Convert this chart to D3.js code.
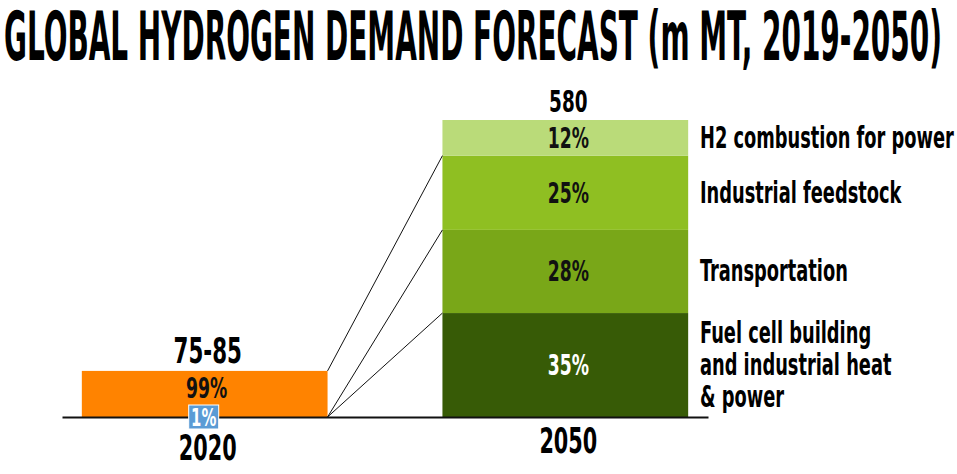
<!DOCTYPE html>
<html>
<head>
<meta charset="utf-8">
<script src="https://cdn.jsdelivr.net/npm/d3@7"></script>
<style>
  html, body { margin: 0; padding: 0; background: #ffffff; }
  svg { display: block; }
</style>
</head>
<body>
<svg id="chart" width="957" height="474"></svg>
<script>
// ---------------- data ----------------
const title = "GLOBAL HYDROGEN DEMAND FORECAST (m MT, 2019-2050)";
const years = ["2020", "2050"];
const totalLabels = ["75-85", "580"];
const totalValues = [90, 580];              // bar heights (m MT)
const shares2020 = [99, 1];                 // % : conventional, clean hydrogen
const segments2050 = [
  "Fuel cell building|and industrial heat|& power",
  "Transportation",
  "Industrial feedstock",
  "H2 combustion for power"
];
const shares2050 = [35, 28, 25, 12];        // % of 2050 demand, bottom to top
const colors2050 = ["#375b06", "#79a718", "#8fbf22", "#badb79"];
const labelColors2050 = ["#ffffff", "#111111", "#111111", "#111111"];

// ---------------- layout ----------------
const FONT = "'DejaVu Sans Condensed', 'DejaVu Sans', sans-serif";
const SX = 0.66;   // horizontal squeeze to mimic the condensed face

const svg = d3.select("#chart");

const x = d3.scaleBand().domain(years).range([62, 708]).paddingInner(0.3186).paddingOuter(0.055);
const y = d3.scaleLinear().domain([0, 580]).range([417, 120]);

function squeeze(sel, sx) {
  sel.each(function () {
    const t = d3.select(this);
    const tx = +t.attr("x") || 0, ty = +t.attr("y") || 0;
    t.attr("transform", `translate(${tx},${ty}) scale(${sx},1) translate(${-tx},${-ty})`);
  });
}

// title (squeezed to fit the width)
const titleEl = svg.append("text")
  .attr("x", 4).attr("y", 60)
  .style("font-family", FONT).style("font-weight", "bold").style("font-size", "68px")
  .attr("fill", "#000").text(title);
const natW = titleEl.node().getComputedTextLength();
titleEl.call(squeeze, 938 / natW);

// ---------------- 2020 bar ----------------
const b0 = x("2020"), bw = x.bandwidth();
svg.append("rect")
  .attr("x", b0).attr("y", y(totalValues[0]))
  .attr("width", bw).attr("height", y(0) - y(totalValues[0]))
  .attr("fill", "#ff8300");

// ---------------- 2050 stacked bar ----------------
const b1 = x("2050");
const stackData = [Object.fromEntries(segments2050.map((s, i) => [s, shares2050[i] / 100 * totalValues[1]]))];
const series = d3.stack().keys(segments2050)(stackData);

svg.append("g").selectAll("rect").data(series).join("rect")
  .attr("x", b1).attr("width", bw)
  .attr("y", d => y(d[0][1]))
  .attr("height", d => y(d[0][0]) - y(d[0][1]))
  .attr("fill", (d, i) => colors2050[i]);

// connector lines
const conn = [
  { from: [b0 + bw, y(0)], to: [b1, y(series[0][0][1])] },
  { from: [b0 + bw, y(0)], to: [b1, y(series[1][0][1])] },
  { from: [b0 + bw, y(totalValues[0])], to: [b1, y(series[2][0][1])] }
];
svg.append("g").selectAll("line").data(conn).join("line")
  .attr("x1", d => d.from[0]).attr("y1", d => d.from[1])
  .attr("x2", d => d.to[0]).attr("y2", d => d.to[1])
  .attr("stroke", "#111").attr("stroke-width", 1);

// axis (baseline + year labels)
const axis = svg.append("g").attr("transform", `translate(0,${y(0)})`)
  .call(d3.axisBottom(x).tickSize(0).tickSizeOuter(0).tickPadding(0));
axis.select(".domain").attr("stroke", "#111").attr("stroke-width", 2);
axis.selectAll(".tick text")
  .style("font-family", FONT).style("font-weight", "bold").style("font-size", "35px").attr("fill", "#000")
  .attr("dy", null)
  .attr("y", d => d === "2020" ? 43 : 36)
  .attr("x", 3)
  .call(squeeze, SX);

// total labels
svg.append("g").selectAll("text").data(years).join("text")
  .attr("x", d => x(d) + bw / 2 + 3)
  .attr("y", (d, i) => y(totalValues[i]) - 8)
  .attr("text-anchor", "middle")
  .style("font-family", FONT).style("font-weight", "bold")
  .style("font-size", (d, i) => i === 0 ? "36px" : "31px")
  .attr("fill", "#000")
  .text((d, i) => totalLabels[i])
  .call(squeeze, SX);

// 2020 share labels
svg.append("text")
  .attr("x", b0 + bw / 2 + 2).attr("y", y(totalValues[0]) + 27)
  .attr("text-anchor", "middle")
  .style("font-family", FONT).style("font-weight", "bold").style("font-size", "29px").attr("fill", "#111")
  .text(shares2020[0] + "%").call(squeeze, SX);

svg.append("rect")
  .attr("x", b0 + bw / 2 - 16).attr("y", y(0) - 12)
  .attr("width", 30).attr("height", 24)
  .attr("fill", "#5b9bd5").attr("stroke", "#ffffff").attr("stroke-width", 1);
svg.append("text")
  .attr("x", b0 + bw / 2 - 1).attr("y", y(0) + 9)
  .attr("text-anchor", "middle")
  .style("font-family", FONT).style("font-weight", "bold").style("font-size", "25px").attr("fill", "#ffffff")
  .text(shares2020[1] + "%").call(squeeze, SX);

// 2050 share labels
svg.append("g").selectAll("text").data(series).join("text")
  .attr("x", b1 + bw / 2 + 3)
  .attr("y", d => (y(d[0][0]) + y(d[0][1])) / 2 + 10)
  .attr("text-anchor", "middle")
  .style("font-family", FONT).style("font-weight", "bold").style("font-size", "29px")
  .attr("fill", (d, i) => labelColors2050[i])
  .text((d, i) => shares2050[i] + "%")
  .call(squeeze, SX);

// category labels
const catG = svg.append("g");
series.forEach((d, i) => {
  const lines = segments2050[i].split("|");
  const cy = (y(d[0][0]) + y(d[0][1])) / 2;
  const lh = 32;
  const t = catG.append("text")
    .attr("x", 700).attr("y", cy + 10 - (lines.length - 1) * lh / 2)
    .style("font-family", FONT).style("font-weight", "bold").style("font-size", "30px").attr("fill", "#000");
  lines.forEach((ln, j) => {
    t.append("tspan").attr("x", 700).attr("dy", j === 0 ? 0 : lh).text(ln);
  });
  t.call(squeeze, SX);
});
</script>
</body>
</html>
